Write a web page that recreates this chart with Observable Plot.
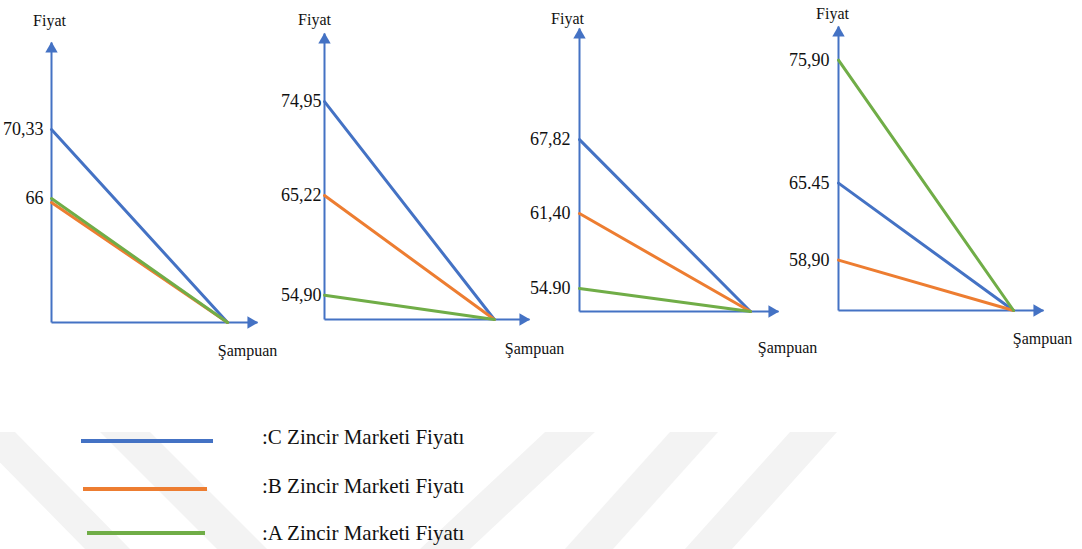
<!DOCTYPE html>
<html>
<head>
<meta charset="utf-8">
<script src="https://cdn.jsdelivr.net/npm/d3@7"></script>
<script src="https://cdn.jsdelivr.net/npm/@observablehq/plot@0.6"></script>
<style>
  html, body { margin: 0; padding: 0; background: #ffffff; }
  #root { position: relative; width: 1082px; height: 549px; overflow: hidden;
          font-family: "Liberation Serif", "Times New Roman", serif; }
  #root .layer { position: absolute; left: 0; top: 0; }
  #root svg text { font-family: "Liberation Serif", "Times New Roman", serif; }
  #legend { position: absolute; left: 0; top: 0; width: 1082px; height: 549px; }
  .lg-line { position: absolute; height: 4px; }
  .lg-text { position: absolute; font-size: 21px; color: #111; line-height: 1; white-space: nowrap; }
</style>
</head>
<body>
<div id="root"></div>
<script>
// ---------- data ----------
const panels = ["1", "2", "3", "4"];
const seriesNames = ["C", "B", "A"];
const priceC = [70.33, 74.95, 67.82, 65.45];
const priceB = [65.75, 65.22, 61.40, 58.90];
const priceA = [66.00, 54.90, 54.90, 75.90];
const tickValues = [[70.33, 66], [74.95, 65.22, 54.90], [67.82, 61.40, 54.90], [75.90, 65.45, 58.90]];
const tickLabels = [["70,33", "66"], ["74,95", "65,22", "54,90"], ["67,82", "61,40", "54.90"], ["75,90", "65.45", "58,90"]];
const legendLabels = [":C Zincir Marketi Fiyatı", ":B Zincir Marketi Fiyatı", ":A Zincir Marketi Fiyatı"];
const yLabel = "Fiyat";
const xLabel = "Şampuan";

// ---------- styling / layout ----------
const serif = "'Liberation Serif', 'Times New Roman', serif";
const colors = { C: "#4472C4", B: "#ED7D31", A: "#70AD47" };
const axisColor = "#4472C4";
const W = 1082, H = 370;
const layout = [
  { left: 51,  right: 257,  top: 42, bottom: 322, yDomain: [58.22, 75.79], xMax: 1.170, pad: 8,  fy: [-2, -22],  sx: [-10, 28] },
  { left: 324, right: 529,  top: 33, bottom: 319, yDomain: [52.38, 82.01], xMax: 1.207, pad: 3,  fy: [-10, -14], sx: [5, 29] },
  { left: 579, right: 778,  top: 28, bottom: 311, yDomain: [52.90, 77.46], xMax: 1.164, pad: 9,  fy: [-12, -10], sx: [9, 36] },
  { left: 838, right: 1043, top: 26, bottom: 310, yDomain: [54.62, 78.76], xMax: 1.171, pad: 9,  fy: [-6, -13],  sx: [-1, 28] }
];

const root = document.getElementById("root");

// faint background watermark (decoration)
const wm = d3.create("svg").attr("class", "layer").attr("width", W).attr("height", 549);
const wmShapes = [
  [[-30, 432], [15, 432], [130, 549], [85, 549]],
  [[100, 432], [150, 432], [267, 549], [217, 549]],
  [[545, 432], [595, 432], [470, 549], [420, 549]],
  [[670, 432], [718, 432], [613, 549], [565, 549]],
  [[790, 432], [837, 432], [732, 549], [685, 549]]
];
wm.selectAll("polygon").data(wmShapes).join("polygon")
  .attr("points", d => d.map(p => p.join(",")).join(" "))
  .attr("fill", "#f3f3f3");
root.appendChild(wm.node());

panels.forEach((p, i) => {
  const L = layout[i];
  const [lo, hi] = L.yDomain;
  const values = { C: priceC[i], B: priceB[i], A: priceA[i] };
  const lineData = seriesNames.flatMap(s => [
    { s, x: 0, y: values[s] },
    { s, x: 1, y: lo }
  ]);
  const ticks = tickValues[i];
  const labels = tickLabels[i];
  const chart = Plot.plot({
    width: W,
    height: H,
    marginLeft: L.left,
    marginRight: W - L.right,
    marginTop: L.top,
    marginBottom: H - L.bottom,
    x: { domain: [0, L.xMax], axis: null },
    y: { domain: [lo, hi], axis: null },
    color: { domain: seriesNames, range: seriesNames.map(s => colors[s]) },
    style: { background: "transparent", fontFamily: serif, color: "#111", overflow: "visible" },
    marks: [
      Plot.link([0], { x1: 0, y1: lo, x2: 0, y2: hi, stroke: axisColor, strokeWidth: 2 }),
      Plot.link([0], { x1: 0, y1: lo, x2: L.xMax, y2: lo, stroke: axisColor, strokeWidth: 2 }),
      Plot.line(lineData, { x: "x", y: "y", z: "s", stroke: "s", strokeWidth: 3 }),
      Plot.dot([0], { x: 0, y: hi, symbol: "triangle", r: 4.6, fill: axisColor, stroke: "none", dy: 6.5 }),
      Plot.dot([0], { x: L.xMax, y: lo, symbol: "triangle", rotate: 90, r: 4.6, fill: axisColor, stroke: "none", dx: -6.5 }),
      Plot.axisY({
        ticks,
        tickFormat: d => labels[ticks.indexOf(d)],
        tickSize: 0,
        tickPadding: L.pad,
        fontSize: 18,
        fontFamily: serif,
        label: null,
        anchor: "left"
      }),
      Plot.text([yLabel], { x: 0, y: hi, text: d => d, dx: L.fy[0], dy: L.fy[1], fontSize: 16, fontFamily: serif, fill: "#111" }),
      Plot.text([xLabel], { x: L.xMax, y: lo, text: d => d, dx: L.sx[0], dy: L.sx[1], fontSize: 16, fontFamily: serif, fill: "#111" })
    ]
  });
  chart.setAttribute("class", "layer");
  root.appendChild(chart);
});

// legend (below the charts)
const legend = document.createElement("div");
legend.id = "legend";
const legendLines = [
  { x1: 81, x2: 213, y: 441 },
  { x1: 83, x2: 207, y: 489 },
  { x1: 87, x2: 205, y: 533 }
];
const legendTextY = [438, 487, 534];
seriesNames.forEach((s, j) => {
  const ln = document.createElement("div");
  ln.className = "lg-line";
  ln.style.left = legendLines[j].x1 + "px";
  ln.style.width = (legendLines[j].x2 - legendLines[j].x1) + "px";
  ln.style.top = (legendLines[j].y - 2) + "px";
  ln.style.background = colors[s];
  legend.appendChild(ln);
  const tx = document.createElement("div");
  tx.className = "lg-text";
  tx.textContent = legendLabels[j];
  tx.style.left = "262px";
  tx.style.top = (legendTextY[j] - 11) + "px";
  legend.appendChild(tx);
});
root.appendChild(legend);
</script>
</body>
</html>
